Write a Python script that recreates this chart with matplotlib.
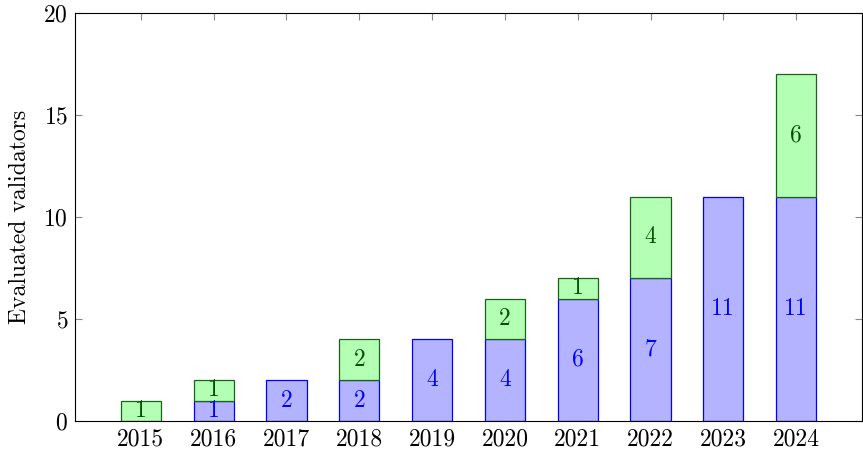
import numpy as np
import matplotlib
matplotlib.use("Agg")
import matplotlib.pyplot as plt

# data
years = ["2015", "2016", "2017", "2018", "2019", "2020", "2021", "2022", "2023", "2024"]
blue_vals = [0, 1, 2, 2, 4, 4, 6, 7, 11, 11]
green_vals = [1, 1, 0, 2, 0, 2, 1, 4, 0, 6]

plt.rcParams['font.family'] = ['cmr10']
plt.rcParams['mathtext.fontset'] = 'cm'
plt.rcParams['axes.formatter.use_mathtext'] = True

blue_fill = (179/255, 179/255, 1.0)
green_fill = (179/255, 1.0, 179/255)
green_edge = (0.1, 0.38, 0.1)
green_text = (0.0, 0.33, 0.0)
fs = 17

fig = plt.figure(figsize=(8.63, 4.53), dpi=100)
ax = fig.add_axes([75/863, 32/453, 787/863, 408/453])

x = np.arange(len(years))
w = 0.55
bottoms = np.array(blue_vals)
for i in range(len(years)):
    # zero-height segments are not drawn
    if blue_vals[i] > 0:
        ax.bar(x[i], blue_vals[i], w, color=blue_fill, edgecolor='blue', linewidth=0.9, zorder=2)
        ax.text(x[i], blue_vals[i] / 2, str(blue_vals[i]), color='blue',
                ha='center', va='center', fontsize=fs, zorder=3)
    if green_vals[i] > 0:
        ax.bar(x[i], green_vals[i], w, bottom=bottoms[i], color=green_fill, edgecolor=green_edge,
               linewidth=0.9, zorder=2)
        ax.text(x[i], bottoms[i] + green_vals[i] / 2, str(green_vals[i]), color=green_text,
                ha='center', va='center', fontsize=fs, zorder=3)

ax.set_xlim(-0.905, len(years) - 1 + 0.905)
ax.set_ylim(0, 20)
ax.set_xticks(x)
ax.set_xticklabels(years)
ax.set_yticks([0, 5, 10, 15, 20])
ax.set_ylabel("Evaluated validators", fontsize=fs, labelpad=9)

ax.tick_params(axis='both', direction='in', length=5, width=0.8, color='#888888',
               labelsize=fs, top=True, right=True, pad=5)
for s in ax.spines.values():
    s.set_linewidth(0.8)
    s.set_zorder(4)

fig.savefig("out.png", dpi=100)
